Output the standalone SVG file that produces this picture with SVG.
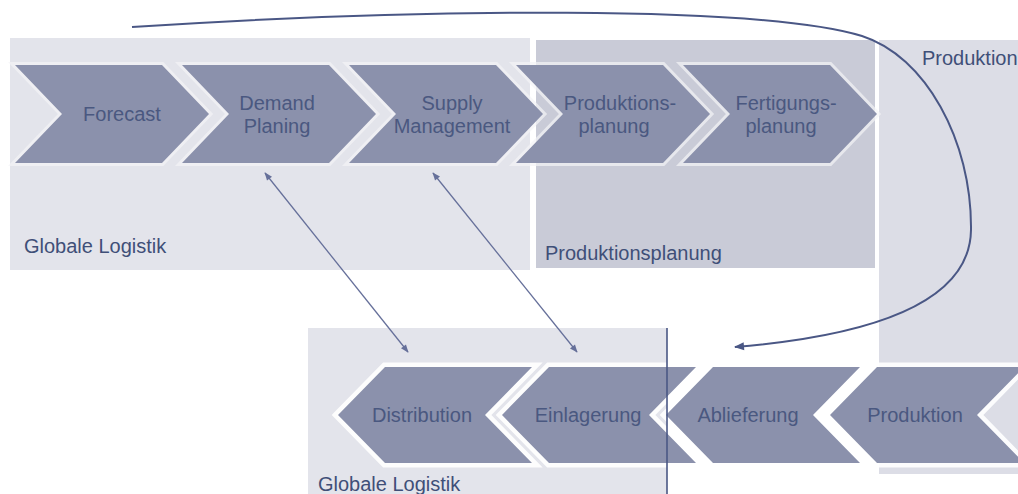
<svg xmlns="http://www.w3.org/2000/svg" width="1018" height="494" viewBox="0 0 1018 494">
  <defs>
    <style>
      .panel-light { fill: #e3e4eb; }
      .panel-dark { fill: #c9cbd7; }
      .panel-prod { fill: #dcdde6; }
      .chev { fill: #8b91ac; stroke: #f4f4f7; stroke-width: 6; stroke-opacity: 0.7; paint-order: stroke; }
      .chev-b { fill: #8b91ac; stroke: #ffffff; stroke-width: 9; stroke-opacity: 0.9; paint-order: stroke; }
      .lbl { font-family: "Liberation Sans", Arial, sans-serif; font-size: 20px; fill: #4a5880; text-anchor: middle; }
      .title { font-family: "Liberation Sans", Arial, sans-serif; font-size: 20px; fill: #3f4f78; }
      .link { fill: none; stroke: #66709a; stroke-width: 1.3; }
      .flow { fill: none; stroke: #4a5785; stroke-width: 2; }
    </style>
    <path id="chevR" d="M0,0 H147 L194,49 L147,98 H0 L47,49 Z"/>
    <path id="chevL" d="M0,48 L47,0 H194 L147,48 L194,96 H47 Z"/>
    <marker id="headFlow" viewBox="0 0 10 10" refX="9" refY="5" markerWidth="12" markerHeight="10" markerUnits="userSpaceOnUse" orient="auto">
      <path d="M0,1 L10,5 L0,9 Z" fill="#4a5785"/>
    </marker>
    <marker id="headLink" viewBox="0 0 10 10" refX="9" refY="5" markerWidth="9" markerHeight="8" markerUnits="userSpaceOnUse" orient="auto-start-reverse">
      <path d="M0,1 L10,5 L0,9 Z" fill="#66709a"/>
    </marker>
  </defs>

  <rect width="1018" height="494" fill="#ffffff"/>

  <!-- area panels -->
  <g id="panel-globale-logistik-top">
    <rect class="panel-light" x="10" y="38" width="520" height="232"/>
    <text class="title" x="24" y="253">Globale Logistik</text>
  </g>
  <g id="panel-produktionsplanung">
    <rect class="panel-dark" x="536" y="40" width="339" height="228"/>
    <text class="title" x="545" y="260">Produktionsplanung</text>
  </g>
  <g id="panel-produktion">
    <rect class="panel-prod" x="879" y="40" width="139" height="434"/>
    <text class="title" x="922" y="65">Produktion</text>
  </g>
  <g id="panel-globale-logistik-bottom">
    <rect class="panel-light" x="308" y="328" width="359" height="166"/>
    <text class="title" x="318" y="491">Globale Logistik</text>
  </g>

  <!-- planning chain (left to right) -->
  <g id="node-forecast">
    <use href="#chevR" class="chev" x="15" y="65"/>
    <text class="lbl" x="122" y="121">Forecast</text>
  </g>
  <g id="node-demand-planing">
    <use href="#chevR" class="chev" x="182" y="65"/>
    <text class="lbl" x="277" y="110">Demand</text>
    <text class="lbl" x="277" y="133">Planing</text>
  </g>
  <g id="node-supply-management">
    <use href="#chevR" class="chev" x="349" y="65"/>
    <text class="lbl" x="452" y="110">Supply</text>
    <text class="lbl" x="452" y="133">Management</text>
  </g>
  <g id="node-produktionsplanung">
    <use href="#chevR" class="chev" x="516" y="65"/>
    <text class="lbl" x="620" y="110">Produktions-</text>
    <text class="lbl" x="614" y="133">planung</text>
  </g>
  <g id="node-fertigungsplanung">
    <use href="#chevR" class="chev" x="683" y="65"/>
    <text class="lbl" x="786" y="110">Fertigungs-</text>
    <text class="lbl" x="781" y="133">planung</text>
  </g>

  <!-- execution chain (right to left) -->
  <g id="node-produktion">
    <use href="#chevL" class="chev-b" x="830" y="367"/>
    <text class="lbl" x="915" y="422">Produktion</text>
  </g>
  <g id="node-ablieferung">
    <use href="#chevL" class="chev-b" x="666" y="367"/>
    <text class="lbl" x="748" y="422">Ablieferung</text>
  </g>
  <g id="node-einlagerung">
    <use href="#chevL" class="chev-b" x="502" y="367"/>
    <text class="lbl" x="588" y="422">Einlagerung</text>
  </g>
  <g id="node-distribution">
    <use href="#chevL" class="chev-b" x="338" y="367"/>
    <text class="lbl" x="422" y="422">Distribution</text>
  </g>

  <!-- connectors -->
  <g id="connectors">
    <path class="flow" marker-end="url(#headFlow)" d="M132,27 C420,8 760,5 862,36 C925,56 972,140 971,230 C970,300 880,335 735,347"/>
    <line class="link" x1="265" y1="173" x2="408" y2="352" marker-start="url(#headLink)" marker-end="url(#headLink)"/>
    <line class="link" x1="433" y1="173" x2="577" y2="352" marker-start="url(#headLink)" marker-end="url(#headLink)"/>
    <line x1="667" y1="328" x2="667" y2="494" stroke="#4a5785" stroke-width="1.6"/>
  </g>
</svg>
